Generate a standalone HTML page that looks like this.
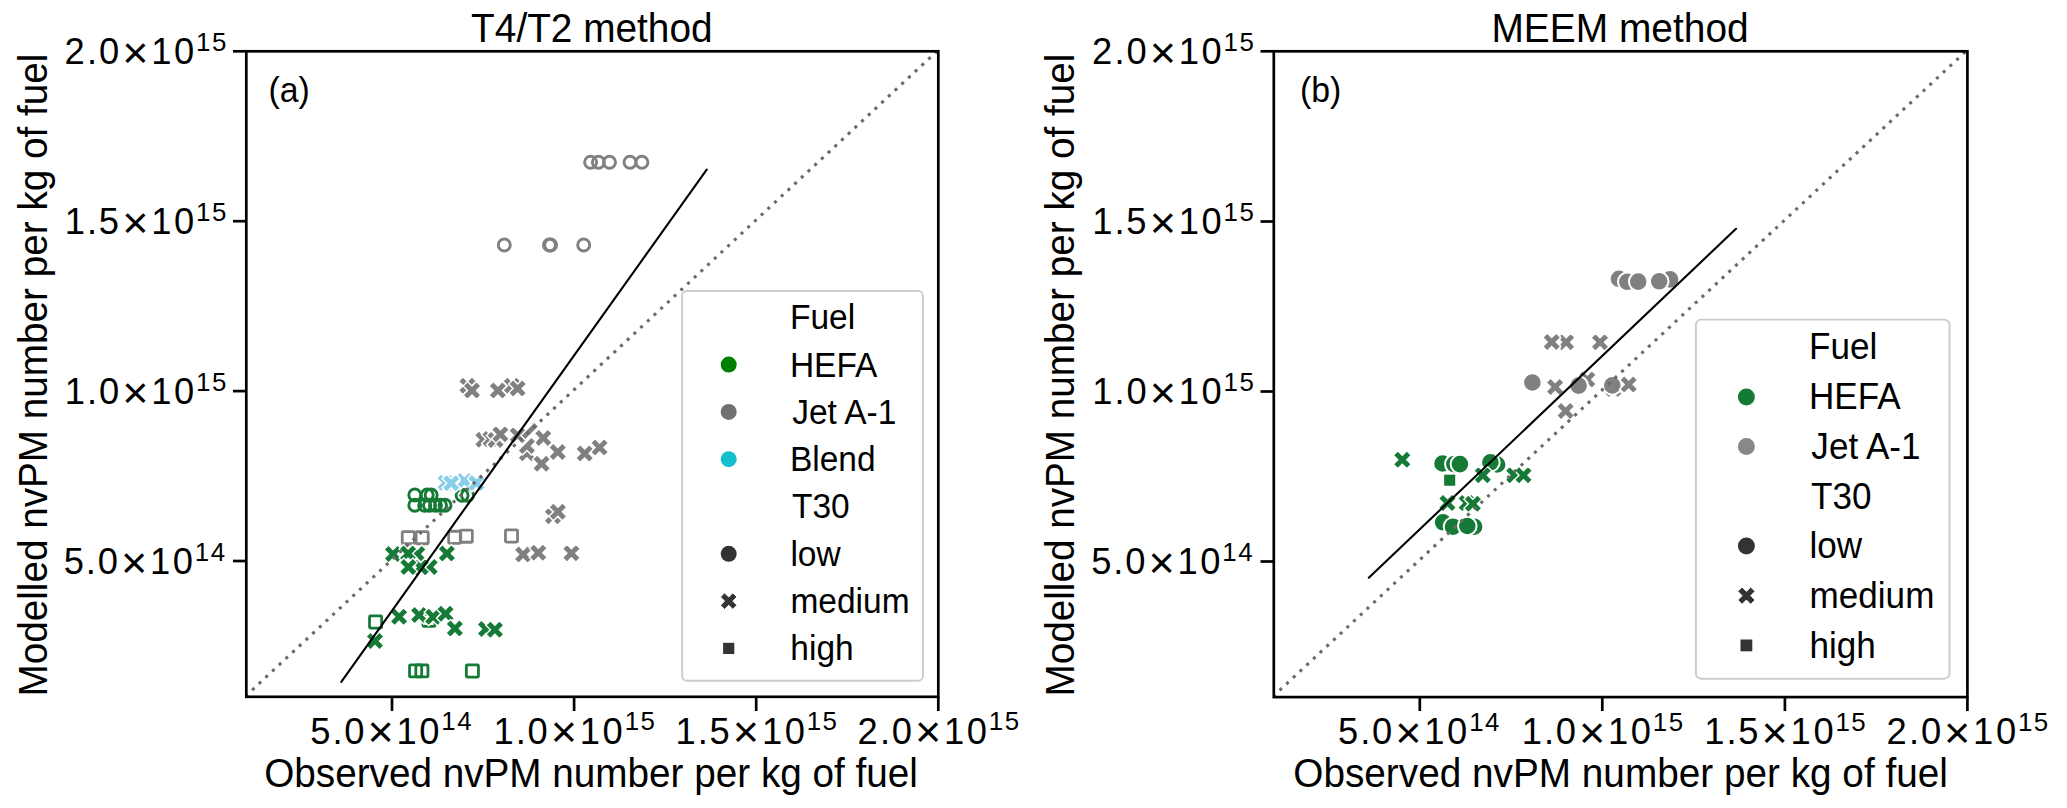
<!DOCTYPE html><html><head><meta charset="utf-8"><style>html,body{margin:0;padding:0;background:#fff;}svg{display:block;}text{font-family:"Liberation Sans", sans-serif;fill:#000;}</style></head><body>
<svg width="2067" height="808" viewBox="0 0 2067 808">
<rect width="2067" height="808" fill="#fff"/>
<circle cx="590.60" cy="162.30" r="6.00" fill="none" stroke="#808080" stroke-width="2.90"/>
<circle cx="598.40" cy="162.30" r="6.00" fill="none" stroke="#808080" stroke-width="2.90"/>
<circle cx="609.50" cy="162.30" r="6.00" fill="none" stroke="#808080" stroke-width="2.90"/>
<circle cx="630.00" cy="162.30" r="6.00" fill="none" stroke="#808080" stroke-width="2.90"/>
<circle cx="641.90" cy="162.30" r="6.00" fill="none" stroke="#808080" stroke-width="2.90"/>
<circle cx="504.30" cy="245.00" r="6.00" fill="none" stroke="#808080" stroke-width="2.90"/>
<circle cx="549.40" cy="245.00" r="6.00" fill="none" stroke="#808080" stroke-width="2.90"/>
<circle cx="550.60" cy="245.00" r="6.00" fill="none" stroke="#808080" stroke-width="2.90"/>
<circle cx="583.70" cy="245.00" r="6.00" fill="none" stroke="#808080" stroke-width="2.90"/>
<polygon points="462.90,376.70 467.40,381.20 471.90,376.70 476.40,381.20 471.90,385.70 476.40,390.20 471.90,394.70 467.40,390.20 462.90,394.70 458.40,390.20 462.90,385.70 458.40,381.20" fill="#808080" stroke="#fff" stroke-width="1.40" stroke-linejoin="miter"/>
<polygon points="467.50,381.50 472.00,386.00 476.50,381.50 481.00,386.00 476.50,390.50 481.00,395.00 476.50,399.50 472.00,395.00 467.50,399.50 463.00,395.00 467.50,390.50 463.00,386.00" fill="#808080" stroke="#fff" stroke-width="1.40" stroke-linejoin="miter"/>
<polygon points="493.40,381.50 497.90,386.00 502.40,381.50 506.90,386.00 502.40,390.50 506.90,395.00 502.40,399.50 497.90,395.00 493.40,399.50 488.90,395.00 493.40,390.50 488.90,386.00" fill="#808080" stroke="#fff" stroke-width="1.40" stroke-linejoin="miter"/>
<polygon points="507.40,376.80 511.90,381.30 516.40,376.80 520.90,381.30 516.40,385.80 520.90,390.30 516.40,394.80 511.90,390.30 507.40,394.80 502.90,390.30 507.40,385.80 502.90,381.30" fill="#808080" stroke="#fff" stroke-width="1.40" stroke-linejoin="miter"/>
<polygon points="513.10,379.60 517.60,384.10 522.10,379.60 526.60,384.10 522.10,388.60 526.60,393.10 522.10,397.60 517.60,393.10 513.10,397.60 508.60,393.10 513.10,388.60 508.60,384.10" fill="#808080" stroke="#fff" stroke-width="1.40" stroke-linejoin="miter"/>
<polygon points="478.90,430.80 483.40,435.30 487.90,430.80 492.40,435.30 487.90,439.80 492.40,444.30 487.90,448.80 483.40,444.30 478.90,448.80 474.40,444.30 478.90,439.80 474.40,435.30" fill="#808080" stroke="#fff" stroke-width="1.40" stroke-linejoin="miter"/>
<polygon points="486.00,430.00 490.50,434.50 495.00,430.00 499.50,434.50 495.00,439.00 499.50,443.50 495.00,448.00 490.50,443.50 486.00,448.00 481.50,443.50 486.00,439.00 481.50,434.50" fill="#808080" stroke="#fff" stroke-width="1.40" stroke-linejoin="miter"/>
<polygon points="491.00,431.00 495.50,435.50 500.00,431.00 504.50,435.50 500.00,440.00 504.50,444.50 500.00,449.00 495.50,444.50 491.00,449.00 486.50,444.50 491.00,440.00 486.50,435.50" fill="#808080" stroke="#fff" stroke-width="1.40" stroke-linejoin="miter"/>
<polygon points="495.90,425.30 500.40,429.80 504.90,425.30 509.40,429.80 504.90,434.30 509.40,438.80 504.90,443.30 500.40,438.80 495.90,443.30 491.40,438.80 495.90,434.30 491.40,429.80" fill="#808080" stroke="#fff" stroke-width="1.40" stroke-linejoin="miter"/>
<polygon points="513.20,426.30 517.70,430.80 522.20,426.30 526.70,430.80 522.20,435.30 526.70,439.80 522.20,444.30 517.70,439.80 513.20,444.30 508.70,439.80 513.20,435.30 508.70,430.80" fill="#808080" stroke="#fff" stroke-width="1.40" stroke-linejoin="miter"/>
<polygon points="529.80,426.60 534.30,422.10 538.80,426.60 534.30,431.10 529.80,435.60 525.30,440.10 520.80,435.60 525.30,431.10" fill="#808080" stroke="#fff" stroke-width="1.40"/>
<polygon points="538.80,429.00 543.30,433.50 547.80,429.00 552.30,433.50 547.80,438.00 552.30,442.50 547.80,447.00 543.30,442.50 538.80,447.00 534.30,442.50 538.80,438.00 534.30,433.50" fill="#808080" stroke="#fff" stroke-width="1.40" stroke-linejoin="miter"/>
<polygon points="522.40,444.30 526.90,448.80 531.40,444.30 535.90,448.80 531.40,453.30 535.90,457.80 531.40,462.30 526.90,457.80 522.40,462.30 517.90,457.80 522.40,453.30 517.90,448.80" fill="#808080" stroke="#fff" stroke-width="1.40" stroke-linejoin="miter"/>
<polygon points="526.90,441.60 531.40,437.10 535.90,441.60 531.40,446.10 535.90,450.60 531.40,455.10 526.90,450.60 522.40,455.10 517.90,450.60 522.40,446.10" fill="#808080" stroke="#fff" stroke-width="1.40"/>
<polygon points="537.10,454.70 541.60,459.20 546.10,454.70 550.60,459.20 546.10,463.70 550.60,468.20 546.10,472.70 541.60,468.20 537.10,472.70 532.60,468.20 537.10,463.70 532.60,459.20" fill="#808080" stroke="#fff" stroke-width="1.40" stroke-linejoin="miter"/>
<polygon points="553.30,443.00 557.80,447.50 562.30,443.00 566.80,447.50 562.30,452.00 566.80,456.50 562.30,461.00 557.80,456.50 553.30,461.00 548.80,456.50 553.30,452.00 548.80,447.50" fill="#808080" stroke="#fff" stroke-width="1.40" stroke-linejoin="miter"/>
<polygon points="580.20,444.60 584.70,449.10 589.20,444.60 593.70,449.10 589.20,453.60 593.70,458.10 589.20,462.60 584.70,458.10 580.20,462.60 575.70,458.10 580.20,453.60 575.70,449.10" fill="#808080" stroke="#fff" stroke-width="1.40" stroke-linejoin="miter"/>
<polygon points="595.10,438.60 599.60,443.10 604.10,438.60 608.60,443.10 604.10,447.60 608.60,452.10 604.10,456.60 599.60,452.10 595.10,456.60 590.60,452.10 595.10,447.60 590.60,443.10" fill="#808080" stroke="#fff" stroke-width="1.40" stroke-linejoin="miter"/>
<polygon points="548.40,507.20 552.90,511.70 557.40,507.20 561.90,511.70 557.40,516.20 561.90,520.70 557.40,525.20 552.90,520.70 548.40,525.20 543.90,520.70 548.40,516.20 543.90,511.70" fill="#808080" stroke="#fff" stroke-width="1.40" stroke-linejoin="miter"/>
<polygon points="553.40,502.70 557.90,507.20 562.40,502.70 566.90,507.20 562.40,511.70 566.90,516.20 562.40,520.70 557.90,516.20 553.40,520.70 548.90,516.20 553.40,511.70 548.90,507.20" fill="#808080" stroke="#fff" stroke-width="1.40" stroke-linejoin="miter"/>
<polygon points="518.60,545.40 523.10,549.90 527.60,545.40 532.10,549.90 527.60,554.40 532.10,558.90 527.60,563.40 523.10,558.90 518.60,563.40 514.10,558.90 518.60,554.40 514.10,549.90" fill="#808080" stroke="#fff" stroke-width="1.40" stroke-linejoin="miter"/>
<polygon points="533.80,543.80 538.30,548.30 542.80,543.80 547.30,548.30 542.80,552.80 547.30,557.30 542.80,561.80 538.30,557.30 533.80,561.80 529.30,557.30 533.80,552.80 529.30,548.30" fill="#808080" stroke="#fff" stroke-width="1.40" stroke-linejoin="miter"/>
<polygon points="566.90,544.20 571.40,548.70 575.90,544.20 580.40,548.70 575.90,553.20 580.40,557.70 575.90,562.20 571.40,557.70 566.90,562.20 562.40,557.70 566.90,553.20 562.40,548.70" fill="#808080" stroke="#fff" stroke-width="1.40" stroke-linejoin="miter"/>
<rect x="402.25" y="531.65" width="12.10" height="12.10" rx="1" fill="none" stroke="#808080" stroke-width="2.80"/>
<rect x="416.15" y="531.65" width="12.10" height="12.10" rx="1" fill="none" stroke="#808080" stroke-width="2.80"/>
<rect x="448.65" y="531.25" width="12.10" height="12.10" rx="1" fill="none" stroke="#808080" stroke-width="2.80"/>
<rect x="460.25" y="530.15" width="12.10" height="12.10" rx="1" fill="none" stroke="#808080" stroke-width="2.80"/>
<rect x="505.45" y="529.95" width="12.10" height="12.10" rx="1" fill="none" stroke="#808080" stroke-width="2.80"/>
<circle cx="414.80" cy="495.00" r="6.00" fill="none" stroke="#157a35" stroke-width="2.90"/>
<circle cx="427.20" cy="495.00" r="6.00" fill="none" stroke="#157a35" stroke-width="2.90"/>
<circle cx="431.20" cy="495.00" r="6.00" fill="none" stroke="#157a35" stroke-width="2.90"/>
<circle cx="414.80" cy="505.20" r="6.00" fill="none" stroke="#157a35" stroke-width="2.90"/>
<circle cx="424.70" cy="505.20" r="6.00" fill="none" stroke="#157a35" stroke-width="2.90"/>
<circle cx="429.50" cy="505.20" r="6.00" fill="none" stroke="#157a35" stroke-width="2.90"/>
<circle cx="435.50" cy="505.20" r="6.00" fill="none" stroke="#157a35" stroke-width="2.90"/>
<circle cx="440.50" cy="505.20" r="6.00" fill="none" stroke="#157a35" stroke-width="2.90"/>
<circle cx="445.00" cy="505.20" r="6.00" fill="none" stroke="#157a35" stroke-width="2.90"/>
<circle cx="462.10" cy="495.30" r="6.00" fill="none" stroke="#157a35" stroke-width="2.90"/>
<circle cx="467.50" cy="495.30" r="6.00" fill="none" stroke="#157a35" stroke-width="2.90"/>
<polygon points="441.10,473.80 445.60,478.30 450.10,473.80 454.60,478.30 450.10,482.80 454.60,487.30 450.10,491.80 445.60,487.30 441.10,491.80 436.60,487.30 441.10,482.80 436.60,478.30" fill="#87ceeb" stroke="#fff" stroke-width="1.40" stroke-linejoin="miter"/>
<polygon points="460.00,472.10 464.50,476.60 469.00,472.10 473.50,476.60 469.00,481.10 473.50,485.60 469.00,490.10 464.50,485.60 460.00,490.10 455.50,485.60 460.00,481.10 455.50,476.60" fill="#87ceeb" stroke="#fff" stroke-width="1.40" stroke-linejoin="miter"/>
<polygon points="446.70,474.20 451.20,478.70 455.70,474.20 460.20,478.70 455.70,483.20 460.20,487.70 455.70,492.20 451.20,487.70 446.70,492.20 442.20,487.70 446.70,483.20 442.20,478.70" fill="#87ceeb" stroke="#fff" stroke-width="1.40" stroke-linejoin="miter"/>
<polygon points="471.90,474.00 476.40,478.50 480.90,474.00 485.40,478.50 480.90,483.00 485.40,487.50 480.90,492.00 476.40,487.50 471.90,492.00 467.40,487.50 471.90,483.00 467.40,478.50" fill="#87ceeb" stroke="#fff" stroke-width="1.40" stroke-linejoin="miter"/>
<polygon points="442.40,544.50 446.90,549.00 451.40,544.50 455.90,549.00 451.40,553.50 455.90,558.00 451.40,562.50 446.90,558.00 442.40,562.50 437.90,558.00 442.40,553.50 437.90,549.00" fill="#157a35" stroke="#fff" stroke-width="1.40" stroke-linejoin="miter"/>
<polygon points="412.80,544.90 417.30,549.40 421.80,544.90 426.30,549.40 421.80,553.90 426.30,558.40 421.80,562.90 417.30,558.40 412.80,562.90 408.30,558.40 412.80,553.90 408.30,549.40" fill="#157a35" stroke="#fff" stroke-width="1.40" stroke-linejoin="miter"/>
<polygon points="388.50,545.00 393.00,549.50 397.50,545.00 402.00,549.50 397.50,554.00 402.00,558.50 397.50,563.00 393.00,558.50 388.50,563.00 384.00,558.50 388.50,554.00 384.00,549.50" fill="#157a35" stroke="#fff" stroke-width="1.40" stroke-linejoin="miter"/>
<polygon points="403.60,544.40 408.10,548.90 412.60,544.40 417.10,548.90 412.60,553.40 417.10,557.90 412.60,562.40 408.10,557.90 403.60,562.40 399.10,557.90 403.60,553.40 399.10,548.90" fill="#157a35" stroke="#fff" stroke-width="1.40" stroke-linejoin="miter"/>
<polygon points="425.20,558.00 429.70,562.50 434.20,558.00 438.70,562.50 434.20,567.00 438.70,571.50 434.20,576.00 429.70,571.50 425.20,576.00 420.70,571.50 425.20,567.00 420.70,562.50" fill="#157a35" stroke="#fff" stroke-width="1.40" stroke-linejoin="miter"/>
<polygon points="416.20,558.20 420.70,562.70 425.20,558.20 429.70,562.70 425.20,567.20 429.70,571.70 425.20,576.20 420.70,571.70 416.20,576.20 411.70,571.70 416.20,567.20 411.70,562.70" fill="#157a35" stroke="#fff" stroke-width="1.40" stroke-linejoin="miter"/>
<polygon points="403.90,558.00 408.40,562.50 412.90,558.00 417.40,562.50 412.90,567.00 417.40,571.50 412.90,576.00 408.40,571.50 403.90,576.00 399.40,571.50 403.90,567.00 399.40,562.50" fill="#157a35" stroke="#fff" stroke-width="1.40" stroke-linejoin="miter"/>
<rect x="369.55" y="615.95" width="12.10" height="12.10" rx="1" fill="none" stroke="#157a35" stroke-width="2.80"/>
<rect x="422.95" y="614.25" width="12.10" height="12.10" rx="1" fill="none" stroke="#157a35" stroke-width="2.80"/>
<rect x="409.55" y="664.85" width="12.10" height="12.10" rx="1" fill="none" stroke="#157a35" stroke-width="2.80"/>
<rect x="415.85" y="664.85" width="12.10" height="12.10" rx="1" fill="none" stroke="#157a35" stroke-width="2.80"/>
<rect x="466.35" y="664.95" width="12.10" height="12.10" rx="1" fill="none" stroke="#157a35" stroke-width="2.80"/>
<polygon points="370.50,631.90 375.00,636.40 379.50,631.90 384.00,636.40 379.50,640.90 384.00,645.40 379.50,649.90 375.00,645.40 370.50,649.90 366.00,645.40 370.50,640.90 366.00,636.40" fill="#157a35" stroke="#fff" stroke-width="1.40" stroke-linejoin="miter"/>
<polygon points="394.60,607.70 399.10,612.20 403.60,607.70 408.10,612.20 403.60,616.70 408.10,621.20 403.60,625.70 399.10,621.20 394.60,625.70 390.10,621.20 394.60,616.70 390.10,612.20" fill="#157a35" stroke="#fff" stroke-width="1.40" stroke-linejoin="miter"/>
<polygon points="414.60,606.00 419.10,610.50 423.60,606.00 428.10,610.50 423.60,615.00 428.10,619.50 423.60,624.00 419.10,619.50 414.60,624.00 410.10,619.50 414.60,615.00 410.10,610.50" fill="#157a35" stroke="#fff" stroke-width="1.40" stroke-linejoin="miter"/>
<polygon points="428.70,607.70 433.20,612.20 437.70,607.70 442.20,612.20 437.70,616.70 442.20,621.20 437.70,625.70 433.20,621.20 428.70,625.70 424.20,621.20 428.70,616.70 424.20,612.20" fill="#157a35" stroke="#fff" stroke-width="1.40" stroke-linejoin="miter"/>
<polygon points="441.00,604.80 445.50,609.30 450.00,604.80 454.50,609.30 450.00,613.80 454.50,618.30 450.00,622.80 445.50,618.30 441.00,622.80 436.50,618.30 441.00,613.80 436.50,609.30" fill="#157a35" stroke="#fff" stroke-width="1.40" stroke-linejoin="miter"/>
<polygon points="450.40,619.50 454.90,624.00 459.40,619.50 463.90,624.00 459.40,628.50 463.90,633.00 459.40,637.50 454.90,633.00 450.40,637.50 445.90,633.00 450.40,628.50 445.90,624.00" fill="#157a35" stroke="#fff" stroke-width="1.40" stroke-linejoin="miter"/>
<polygon points="481.50,620.10 486.00,624.60 490.50,620.10 495.00,624.60 490.50,629.10 495.00,633.60 490.50,638.10 486.00,633.60 481.50,638.10 477.00,633.60 481.50,629.10 477.00,624.60" fill="#157a35" stroke="#fff" stroke-width="1.40" stroke-linejoin="miter"/>
<polygon points="490.40,620.70 494.90,625.20 499.40,620.70 503.90,625.20 499.40,629.70 503.90,634.20 499.40,638.70 494.90,634.20 490.40,638.70 485.90,634.20 490.40,629.70 485.90,625.20" fill="#157a35" stroke="#fff" stroke-width="1.40" stroke-linejoin="miter"/>
<line x1="246.3" y1="695.5" x2="938.3" y2="50.0" stroke="#6a6a6a" stroke-width="3.1" stroke-dasharray="3.1 6.055" stroke-dashoffset="1.2"/>
<line x1="341.3" y1="681.8" x2="706.7" y2="169.6" stroke="#000" stroke-width="2.1" stroke-linecap="round"/>
<rect x="246.3" y="51.3" width="692" height="645.5" fill="none" stroke="#000" stroke-width="2.7"/>
<line x1="233" y1="51.30" x2="246.3" y2="51.30" stroke="#000" stroke-width="2.7"/>
<line x1="233" y1="221.20" x2="246.3" y2="221.20" stroke="#000" stroke-width="2.7"/>
<line x1="233" y1="391.10" x2="246.3" y2="391.10" stroke="#000" stroke-width="2.7"/>
<line x1="233" y1="561.00" x2="246.3" y2="561.00" stroke="#000" stroke-width="2.7"/>
<line x1="392.00" y1="696.8" x2="392.00" y2="711.0" stroke="#000" stroke-width="2.7"/>
<line x1="574.10" y1="696.8" x2="574.10" y2="711.0" stroke="#000" stroke-width="2.7"/>
<line x1="756.20" y1="696.8" x2="756.20" y2="711.0" stroke="#000" stroke-width="2.7"/>
<line x1="938.30" y1="696.8" x2="938.30" y2="711.0" stroke="#000" stroke-width="2.7"/>
<text x="64.58 87.06 98.97 151.20 173.99" y="64.00" font-size="36.35">2.010</text>
<text x="122.15" y="67.83" font-size="44.97">×</text>
<text x="196.01 211.89" y="50.80" font-size="25.86">15</text>
<text x="64.87 87.06 98.83 151.20 173.99" y="234.20" font-size="36.35">1.510</text>
<text x="122.15" y="238.03" font-size="44.97">×</text>
<text x="196.01 211.89" y="221.00" font-size="25.86">15</text>
<text x="64.87 87.06 98.97 151.20 173.99" y="404.10" font-size="36.35">1.010</text>
<text x="122.15" y="407.93" font-size="44.97">×</text>
<text x="196.01 211.89" y="390.90" font-size="25.86">15</text>
<text x="63.71 85.86 97.77 150.00 172.79" y="574.00" font-size="36.35">5.010</text>
<text x="120.95" y="577.83" font-size="44.97">×</text>
<text x="194.81 210.78" y="560.80" font-size="25.86">14</text>
<text x="310.23 332.38 344.29 396.52 419.31" y="743.50" font-size="36.35">5.010</text>
<text x="367.47" y="747.33" font-size="44.97">×</text>
<text x="441.33 457.30" y="730.30" font-size="25.86">14</text>
<text x="493.49 515.68 527.59 579.82 602.61" y="743.50" font-size="36.35">1.010</text>
<text x="550.77" y="747.33" font-size="44.97">×</text>
<text x="624.63 640.51" y="730.30" font-size="25.86">15</text>
<text x="675.59 697.78 709.55 761.92 784.71" y="743.50" font-size="36.35">1.510</text>
<text x="732.87" y="747.33" font-size="44.97">×</text>
<text x="806.73 822.61" y="730.30" font-size="25.86">15</text>
<text x="857.40 879.88 891.79 944.02 966.81" y="743.50" font-size="36.35">2.010</text>
<text x="914.97" y="747.33" font-size="44.97">×</text>
<text x="988.83 1004.71" y="730.30" font-size="25.86">15</text>
<g transform="translate(0 42.10) scale(1 1.0350)"><text x="471.13" y="0" font-size="38.50" textLength="241.47" lengthAdjust="spacingAndGlyphs">T4/T2 method</text></g>
<g transform="translate(0 786.80) scale(1 1.0350)"><text x="264.27" y="0" font-size="38.50" textLength="653.62" lengthAdjust="spacingAndGlyphs">Observed nvPM number per kg of fuel</text></g>
<g transform="translate(46.60 0) rotate(-90) scale(1 1.0350)"><text x="-696.57" y="0" font-size="38.50" textLength="642.96" lengthAdjust="spacingAndGlyphs">Modelled nvPM number per kg of fuel</text></g>
<g transform="translate(0 101.80) scale(1 1.0350)"><text x="268.40" y="0" font-size="33.50" textLength="41.29" lengthAdjust="spacingAndGlyphs">(a)</text></g>
<rect x="682.1" y="291.0" width="240.9" height="389.8" rx="5" ry="5" fill="#fff" fill-opacity="0.8" stroke="#cccccc" stroke-width="1.9"/>
<g transform="translate(0 329.20) scale(1 1.0400)"><text x="789.95" y="0" font-size="33.50">Fuel</text></g>
<g transform="translate(0 376.50) scale(1 1.0400)"><text x="789.95" y="0" font-size="33.50">HEFA</text></g>
<g transform="translate(0 423.80) scale(1 1.0400)"><text x="792.18" y="0" font-size="33.50">Jet A-1</text></g>
<g transform="translate(0 471.10) scale(1 1.0400)"><text x="789.95" y="0" font-size="33.50">Blend</text></g>
<g transform="translate(0 518.40) scale(1 1.0400)"><text x="791.95" y="0" font-size="33.50">T30</text></g>
<g transform="translate(0 565.70) scale(1 1.0400)"><text x="790.44" y="0" font-size="33.50">low</text></g>
<g transform="translate(0 613.00) scale(1 1.0400)"><text x="790.48" y="0" font-size="33.50">medium</text></g>
<g transform="translate(0 660.30) scale(1 1.0400)"><text x="790.38" y="0" font-size="33.50">high</text></g>
<circle cx="728.70" cy="364.60" r="8.0" fill="#008000"/>
<circle cx="728.70" cy="411.90" r="8.0" fill="#707070"/>
<circle cx="728.70" cy="459.20" r="8.0" fill="#17becf"/>
<circle cx="728.70" cy="553.80" r="8.0" fill="#333333"/>
<polygon points="724.58,592.85 728.70,596.98 732.83,592.85 736.95,596.98 732.83,601.10 736.95,605.23 732.83,609.35 728.70,605.23 724.58,609.35 720.45,605.23 724.58,601.10 720.45,596.98" fill="#333333" stroke="#fff" stroke-width="1.0"/>
<rect x="723.10" y="642.80" width="11.2" height="11.2" fill="#333333"/>
<circle cx="1670.10" cy="279.40" r="9.30" fill="#808080" stroke="#fff" stroke-width="2.00"/>
<circle cx="1619.00" cy="278.90" r="9.30" fill="#808080" stroke="#fff" stroke-width="2.00"/>
<circle cx="1627.30" cy="281.80" r="9.30" fill="#808080" stroke="#fff" stroke-width="2.00"/>
<circle cx="1638.20" cy="281.60" r="9.30" fill="#808080" stroke="#fff" stroke-width="2.00"/>
<circle cx="1659.20" cy="281.30" r="9.30" fill="#808080" stroke="#fff" stroke-width="2.00"/>
<clipPath id="c1"><rect x="1560.60" y="327.20" width="20.50" height="30.00"/></clipPath>
<polygon clip-path="url(#c1)" points="1561.60,333.20 1566.10,337.70 1570.60,333.20 1575.10,337.70 1570.60,342.20 1575.10,346.70 1570.60,351.20 1566.10,346.70 1561.60,351.20 1557.10,346.70 1561.60,342.20 1557.10,337.70" fill="#808080" stroke="#fff" stroke-width="1.40"/>
<polygon points="1547.20,333.10 1551.70,337.60 1556.20,333.10 1560.70,337.60 1556.20,342.10 1560.70,346.60 1556.20,351.10 1551.70,346.60 1547.20,351.10 1542.70,346.60 1547.20,342.10 1542.70,337.60" fill="#808080" stroke="#fff" stroke-width="1.40" stroke-linejoin="miter"/>
<polygon points="1595.50,333.30 1600.00,337.80 1604.50,333.30 1609.00,337.80 1604.50,342.30 1609.00,346.80 1604.50,351.30 1600.00,346.80 1595.50,351.30 1591.00,346.80 1595.50,342.30 1591.00,337.80" fill="#808080" stroke="#fff" stroke-width="1.40" stroke-linejoin="miter"/>
<polygon points="1582.80,370.50 1587.30,375.00 1591.80,370.50 1596.30,375.00 1591.80,379.50 1596.30,384.00 1591.80,388.50 1587.30,384.00 1582.80,388.50 1578.30,384.00 1582.80,379.50 1578.30,375.00" fill="#808080" stroke="#fff" stroke-width="1.40" stroke-linejoin="miter"/>
<polygon points="1608.80,380.00 1613.30,384.50 1617.80,380.00 1622.30,384.50 1617.80,389.00 1622.30,393.50 1617.80,398.00 1613.30,393.50 1608.80,398.00 1604.30,393.50 1608.80,389.00 1604.30,384.50" fill="#808080" stroke="#fff" stroke-width="1.40" stroke-linejoin="miter"/>
<circle cx="1532.40" cy="382.50" r="9.30" fill="#808080" stroke="#fff" stroke-width="2.00"/>
<circle cx="1578.60" cy="385.60" r="9.30" fill="#808080" stroke="#fff" stroke-width="2.00"/>
<circle cx="1612.30" cy="385.40" r="9.30" fill="#808080" stroke="#fff" stroke-width="2.00"/>
<polygon points="1550.60,377.90 1555.10,382.40 1559.60,377.90 1564.10,382.40 1559.60,386.90 1564.10,391.40 1559.60,395.90 1555.10,391.40 1550.60,395.90 1546.10,391.40 1550.60,386.90 1546.10,382.40" fill="#808080" stroke="#fff" stroke-width="1.40" stroke-linejoin="miter"/>
<polygon points="1624.20,375.40 1628.70,379.90 1633.20,375.40 1637.70,379.90 1633.20,384.40 1637.70,388.90 1633.20,393.40 1628.70,388.90 1624.20,393.40 1619.70,388.90 1624.20,384.40 1619.70,379.90" fill="#808080" stroke="#fff" stroke-width="1.40" stroke-linejoin="miter"/>
<polygon points="1561.10,402.00 1565.60,406.50 1570.10,402.00 1574.60,406.50 1570.10,411.00 1574.60,415.50 1570.10,420.00 1565.60,415.50 1561.10,420.00 1556.60,415.50 1561.10,411.00 1556.60,406.50" fill="#808080" stroke="#fff" stroke-width="1.40" stroke-linejoin="miter"/>
<polygon points="1397.80,450.80 1402.30,455.30 1406.80,450.80 1411.30,455.30 1406.80,459.80 1411.30,464.30 1406.80,468.80 1402.30,464.30 1397.80,468.80 1393.30,464.30 1397.80,459.80 1393.30,455.30" fill="#157a35" stroke="#fff" stroke-width="1.40" stroke-linejoin="miter"/>
<circle cx="1442.50" cy="463.50" r="9.30" fill="#157a35" stroke="#fff" stroke-width="2.00"/>
<circle cx="1454.30" cy="464.10" r="9.30" fill="#157a35" stroke="#fff" stroke-width="2.00"/>
<circle cx="1459.90" cy="464.10" r="9.30" fill="#157a35" stroke="#fff" stroke-width="2.00"/>
<circle cx="1497.10" cy="464.50" r="9.30" fill="#157a35" stroke="#fff" stroke-width="2.00"/>
<circle cx="1490.40" cy="462.30" r="9.30" fill="#157a35" stroke="#fff" stroke-width="2.00"/>
<rect x="1443.45" y="473.95" width="12.50" height="12.50" fill="#157a35" stroke="#fff" stroke-width="1.40"/>
<polygon points="1478.30,466.30 1482.80,470.80 1487.30,466.30 1491.80,470.80 1487.30,475.30 1491.80,479.80 1487.30,484.30 1482.80,479.80 1478.30,484.30 1473.80,479.80 1478.30,475.30 1473.80,470.80" fill="#157a35" stroke="#fff" stroke-width="1.40" stroke-linejoin="miter"/>
<polygon points="1509.70,466.30 1514.20,470.80 1518.70,466.30 1523.20,470.80 1518.70,475.30 1523.20,479.80 1518.70,484.30 1514.20,479.80 1509.70,484.30 1505.20,479.80 1509.70,475.30 1505.20,470.80" fill="#157a35" stroke="#fff" stroke-width="1.40" stroke-linejoin="miter"/>
<polygon points="1519.00,466.30 1523.50,470.80 1528.00,466.30 1532.50,470.80 1528.00,475.30 1532.50,479.80 1528.00,484.30 1523.50,479.80 1519.00,484.30 1514.50,479.80 1519.00,475.30 1514.50,470.80" fill="#157a35" stroke="#fff" stroke-width="1.40" stroke-linejoin="miter"/>
<polygon points="1443.00,494.10 1447.50,498.60 1452.00,494.10 1456.50,498.60 1452.00,503.10 1456.50,507.60 1452.00,512.10 1447.50,507.60 1443.00,512.10 1438.50,507.60 1443.00,503.10 1438.50,498.60" fill="#157a35" stroke="#fff" stroke-width="1.40" stroke-linejoin="miter"/>
<polygon points="1462.20,494.10 1466.70,498.60 1471.20,494.10 1475.70,498.60 1471.20,503.10 1475.70,507.60 1471.20,512.10 1466.70,507.60 1462.20,512.10 1457.70,507.60 1462.20,503.10 1457.70,498.60" fill="#157a35" stroke="#fff" stroke-width="1.40" stroke-linejoin="miter"/>
<polygon points="1468.40,494.80 1472.90,499.30 1477.40,494.80 1481.90,499.30 1477.40,503.80 1481.90,508.30 1477.40,512.80 1472.90,508.30 1468.40,512.80 1463.90,508.30 1468.40,503.80 1463.90,499.30" fill="#157a35" stroke="#fff" stroke-width="1.40" stroke-linejoin="miter"/>
<circle cx="1443.10" cy="522.30" r="9.30" fill="#157a35" stroke="#fff" stroke-width="2.00"/>
<circle cx="1453.00" cy="526.70" r="9.30" fill="#157a35" stroke="#fff" stroke-width="2.00"/>
<circle cx="1474.10" cy="526.70" r="9.30" fill="#157a35" stroke="#fff" stroke-width="2.00"/>
<circle cx="1467.30" cy="526.00" r="9.30" fill="#157a35" stroke="#fff" stroke-width="2.00"/>
<line x1="1273.8" y1="695.7" x2="1967.4" y2="49.9" stroke="#6a6a6a" stroke-width="3.1" stroke-dasharray="3.1 6.055" stroke-dashoffset="1.2"/>
<line x1="1368.8" y1="577.7" x2="1736.0" y2="228.8" stroke="#000" stroke-width="2.1" stroke-linecap="round"/>
<rect x="1273.8" y="51.3" width="693.6" height="645.8" fill="none" stroke="#000" stroke-width="2.7"/>
<line x1="1260.5" y1="51.30" x2="1273.8" y2="51.30" stroke="#000" stroke-width="2.7"/>
<line x1="1260.5" y1="221.50" x2="1273.8" y2="221.50" stroke="#000" stroke-width="2.7"/>
<line x1="1260.5" y1="391.50" x2="1273.8" y2="391.50" stroke="#000" stroke-width="2.7"/>
<line x1="1260.5" y1="561.50" x2="1273.8" y2="561.50" stroke="#000" stroke-width="2.7"/>
<line x1="1419.80" y1="697.1" x2="1419.80" y2="711.0" stroke="#000" stroke-width="2.7"/>
<line x1="1602.30" y1="697.1" x2="1602.30" y2="711.0" stroke="#000" stroke-width="2.7"/>
<line x1="1784.90" y1="697.1" x2="1784.90" y2="711.0" stroke="#000" stroke-width="2.7"/>
<line x1="1967.40" y1="697.1" x2="1967.40" y2="711.0" stroke="#000" stroke-width="2.7"/>
<text x="1092.08 1114.56 1126.47 1178.70 1201.49" y="64.00" font-size="36.35">2.010</text>
<text x="1149.65" y="67.83" font-size="44.97">×</text>
<text x="1223.51 1239.39" y="50.80" font-size="25.86">15</text>
<text x="1092.37 1114.56 1126.33 1178.70 1201.49" y="234.20" font-size="36.35">1.510</text>
<text x="1149.65" y="238.03" font-size="44.97">×</text>
<text x="1223.51 1239.39" y="221.00" font-size="25.86">15</text>
<text x="1092.37 1114.56 1126.47 1178.70 1201.49" y="404.20" font-size="36.35">1.010</text>
<text x="1149.65" y="408.03" font-size="44.97">×</text>
<text x="1223.51 1239.39" y="391.00" font-size="25.86">15</text>
<text x="1091.21 1113.36 1125.27 1177.50 1200.29" y="574.20" font-size="36.35">5.010</text>
<text x="1148.45" y="578.03" font-size="44.97">×</text>
<text x="1222.31 1238.28" y="561.00" font-size="25.86">14</text>
<text x="1338.03 1360.18 1372.09 1424.32 1447.11" y="744.00" font-size="36.35">5.010</text>
<text x="1395.27" y="747.83" font-size="44.97">×</text>
<text x="1469.13 1485.10" y="730.80" font-size="25.86">14</text>
<text x="1521.69 1543.88 1555.79 1608.02 1630.81" y="744.00" font-size="36.35">1.010</text>
<text x="1578.97" y="747.83" font-size="44.97">×</text>
<text x="1652.83 1668.71" y="730.80" font-size="25.86">15</text>
<text x="1704.29 1726.48 1738.25 1790.62 1813.41" y="744.00" font-size="36.35">1.510</text>
<text x="1761.57" y="747.83" font-size="44.97">×</text>
<text x="1835.43 1851.31" y="730.80" font-size="25.86">15</text>
<text x="1886.50 1908.98 1920.89 1973.12 1995.91" y="744.00" font-size="36.35">2.010</text>
<text x="1944.07" y="747.83" font-size="44.97">×</text>
<text x="2017.93 2033.81" y="730.80" font-size="25.86">15</text>
<g transform="translate(0 42.00) scale(1 1.0350)"><text x="1491.41" y="0" font-size="38.50" textLength="257.30" lengthAdjust="spacingAndGlyphs">MEEM method</text></g>
<g transform="translate(0 786.90) scale(1 1.0350)"><text x="1293.27" y="0" font-size="38.50" textLength="654.63" lengthAdjust="spacingAndGlyphs">Observed nvPM number per kg of fuel</text></g>
<g transform="translate(1074.20 0) rotate(-90) scale(1 1.0350)"><text x="-696.57" y="0" font-size="38.50" textLength="642.96" lengthAdjust="spacingAndGlyphs">Modelled nvPM number per kg of fuel</text></g>
<g transform="translate(0 101.80) scale(1 1.0350)"><text x="1299.90" y="0" font-size="33.50" textLength="41.29" lengthAdjust="spacingAndGlyphs">(b)</text></g>
<rect x="1695.9" y="319.6" width="253.6" height="359.1" rx="5.3" ry="5.3" fill="#fff" fill-opacity="0.8" stroke="#cccccc" stroke-width="1.9"/>
<g transform="translate(0 359.40) scale(1 1.0400)"><text x="1809.02" y="0" font-size="35.10">Fuel</text></g>
<g transform="translate(0 409.10) scale(1 1.0400)"><text x="1809.02" y="0" font-size="35.10">HEFA</text></g>
<g transform="translate(0 458.80) scale(1 1.0400)"><text x="1811.35" y="0" font-size="35.10">Jet A-1</text></g>
<g transform="translate(0 508.50) scale(1 1.0400)"><text x="1811.11" y="0" font-size="35.10">T30</text></g>
<g transform="translate(0 558.20) scale(1 1.0400)"><text x="1809.53" y="0" font-size="35.10">low</text></g>
<g transform="translate(0 607.90) scale(1 1.0400)"><text x="1809.57" y="0" font-size="35.10">medium</text></g>
<g transform="translate(0 657.60) scale(1 1.0400)"><text x="1809.47" y="0" font-size="35.10">high</text></g>
<circle cx="1746.40" cy="396.90" r="8.5" fill="#157a35"/>
<circle cx="1746.40" cy="446.60" r="8.5" fill="#888888"/>
<circle cx="1746.40" cy="546.00" r="8.5" fill="#333333"/>
<polygon points="1742.08,587.05 1746.40,591.37 1750.73,587.05 1755.05,591.37 1750.73,595.70 1755.05,600.02 1750.73,604.35 1746.40,600.02 1742.08,604.35 1737.75,600.02 1742.08,595.70 1737.75,591.37" fill="#333333" stroke="#fff" stroke-width="1.0"/>
<rect x="1740.50" y="639.50" width="11.8" height="11.8" fill="#333333"/>
</svg></body></html>
